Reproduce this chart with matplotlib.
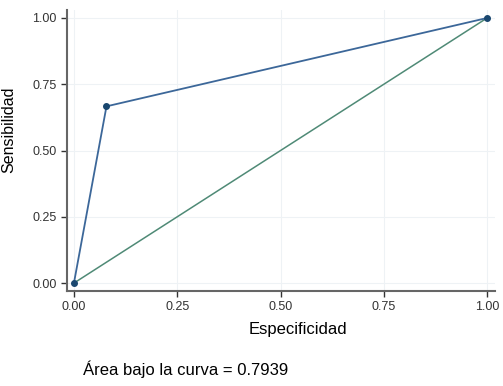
import matplotlib
matplotlib.use("Agg")
import matplotlib.pyplot as plt

plt.rcParams["font.family"] = ["Liberation Sans", "DejaVu Sans"]

# ROC points: 1 - especificidad vs sensibilidad
fpr = [0.0, 0.0788, 1.0]
tpr = [0.0, 0.6667, 1.0]
ref = [0.0, 1.0]
ticks = [0.0, 0.25, 0.5, 0.75, 1.0]
tick_labels = ["0.00", "0.25", "0.50", "0.75", "1.00"]
auc = 0.7939

fig = plt.figure(figsize=(5.03, 3.86), dpi=100)
ax = fig.add_axes([0.133, 0.246, 0.851, 0.728])

ax.plot(ref, ref, color="#4f8a76", lw=1.1, zorder=2)
ax.plot(fpr, tpr, color="#3c6799", lw=1.3, zorder=3)
ax.plot(fpr, tpr, "o", color="#1a476f", ms=4, zorder=4)

ax.set_xlim(-0.017, 1.019)
ax.set_ylim(-0.03, 1.03)
ax.set_xticks(ticks)
ax.set_xticklabels(tick_labels)
ax.set_yticks(ticks)
ax.set_yticklabels(tick_labels)
ax.tick_params(labelsize=9, colors="#333333", length=4, width=1, direction="out")
ax.grid(True, color="#eef2f5", lw=0.8)
ax.set_axisbelow(True)

for side in ["top", "right"]:
    ax.spines[side].set_visible(False)
for side in ["left", "bottom"]:
    ax.spines[side].set_color("#666666")
    ax.spines[side].set_linewidth(1.5)

ax.set_xlabel("Especificidad", fontsize=12)
ax.set_ylabel("Sensibilidad", fontsize=11.5)
ax.xaxis.set_label_coords(0.539, -0.11)
ax.yaxis.set_label_coords(-0.118, 0.573)

fig.text(0.165, 0.028, "Área bajo la curva = %.4f" % auc, fontsize=12)

fig.savefig("out.png", dpi=100)
